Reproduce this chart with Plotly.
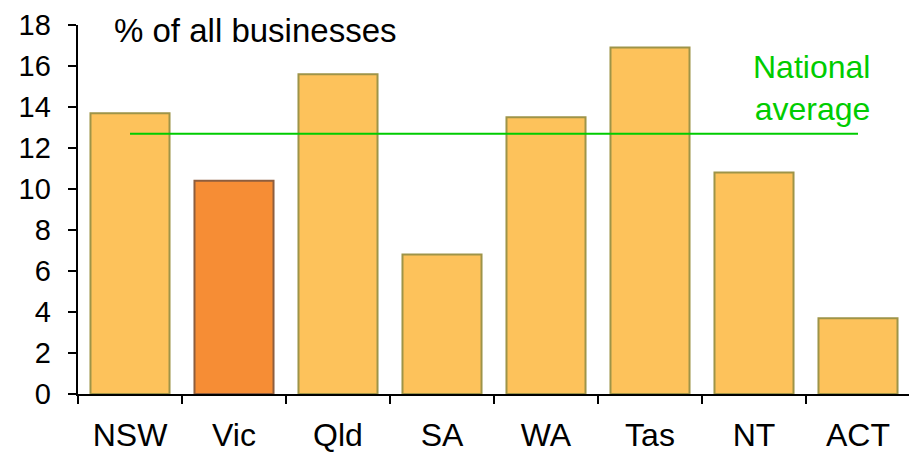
import plotly.graph_objects as go

states = ['NSW', 'Vic', 'Qld', 'SA', 'WA', 'Tas', 'NT', 'ACT']
share = [13.7, 10.4, 15.6, 6.8, 13.5, 16.9, 10.8, 3.7]
national_avg = 12.7

fill = ['#F68D35' if s == 'Vic' else '#FDC25B' for s in states]
edge = ['#8E5E3E' if s == 'Vic' else '#9E9448' for s in states]

fig = go.Figure()

fig.add_trace(go.Bar(
    x=states,
    y=share,
    marker=dict(color=fill, line=dict(color=edge, width=2)),
    showlegend=False,
    hoverinfo='x+y'
))

# national average drawn from first to last category centre
fig.add_trace(go.Scatter(
    x=states,
    y=[national_avg] * len(states),
    mode='lines',
    line=dict(color='#00CC00', width=2),
    showlegend=False,
    hoverinfo='skip'
))

# page body adds an 8px offset, so the figure is sized to fill the rest
fig.update_layout(
    width=909, height=444,
    margin=dict(l=70, r=7, t=17, b=58),
    paper_bgcolor='white',
    plot_bgcolor='white',
    bargap=0.24,
    font=dict(family='Liberation Sans, Arial, sans-serif', color='black', size=29),
    xaxis=dict(
        type='category',
        range=[-0.5, 7.5],
        automargin=False,
        showline=True, linecolor='black', linewidth=1.5,
        ticks='outside', tickson='boundaries', ticklen=8, tickcolor='black', tickwidth=1.5,
        showgrid=False, zeroline=False,
        tickfont=dict(size=32),
        ticklabelstandoff=12,
    ),
    yaxis=dict(
        range=[0, 18],
        dtick=2,
        automargin=False,
        showline=True, linecolor='black', linewidth=1.5,
        ticks='outside', ticklen=8, tickcolor='black', tickwidth=1.5,
        showgrid=False, zeroline=False,
        tickfont=dict(size=29),
        ticksuffix='\u2009\u2009',  # a little extra gap before the axis
    ),
    annotations=[
        dict(text='% of all businesses', xref='paper', yref='paper',
             x=0.041, y=0.986, xanchor='left', yanchor='middle',
             showarrow=False, font=dict(size=33, color='black')),
        dict(text='National<br>average', xref='paper', yref='paper',
             x=0.954, y=0.829, xanchor='right', yanchor='middle', align='right',
             showarrow=False, font=dict(size=32, color='#00CC00')),
    ],
)

fig.write_html("out.html")
